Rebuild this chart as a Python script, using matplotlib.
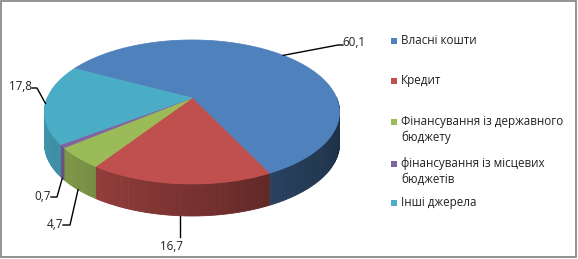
import numpy as np
import matplotlib
matplotlib.use("Agg")
import matplotlib.pyplot as plt
from matplotlib.patches import Polygon, Rectangle
from matplotlib.colors import to_rgb

categories = ["Власні кошти", "Кредит", "Фінансування із державного\nбюджету",
              "фінансування із місцевих\nбюджетів", "Інші джерела"]
values = [60.1, 16.7, 4.7, 0.7, 17.8]
value_labels = ["60,1", "16,7", "4,7", "0,7", "17,8"]
colors = ["#4F81BD", "#C0504D", "#9BBB59", "#8064A2", "#4BACC6"]

plt.rcParams['font.family'] = ['Open Sans', 'DejaVu Sans']

W, H = 578, 259
fig = plt.figure(figsize=(W / 100, H / 100), dpi=100)
ax = fig.add_axes([0, 0, 1, 1])
ax.set_xlim(0, W)
ax.set_ylim(H, 0)
ax.axis('off')

# 3D pie geometry (perspective projection of a disc)
cx, cy = 192, 98
R, HH, k = 144.7, 69.3, 0.194
depth = 32
start = 152.5


def proj(theta_deg, r=1.0):
    t = np.radians(theta_deg)
    u = r * np.cos(t)
    v = r * np.sin(t)
    s = 1 + k * v
    return cx + R * u / s, cy - HH * v / s


vals = np.array(values, dtype=float)
frac = vals / vals.sum()
cum = np.concatenate([[0], np.cumsum(frac)])
a0s = start - 360 * cum[:-1]
a1s = start - 360 * cum[1:]

# side walls
for a0, a1, col in zip(a0s, a1s, colors):
    base = np.array(to_rgb(col))
    n = max(2, int(np.ceil((a0 - a1) / 1.0)))
    edges = np.linspace(a1, a0, n + 1)
    for t0, t1 in zip(edges[:-1], edges[1:]):
        mid = 0.5 * (t0 + t1)
        if np.sin(np.radians(mid)) >= 0.02:
            continue
        f = 0.62 - 0.25 * np.cos(np.radians(mid))
        c = np.clip(base * f, 0, 1)
        x0, y0 = proj(t0)
        x1, y1 = proj(t1)
        poly = [(x0, y0), (x1, y1), (x1, y1 + depth), (x0, y0 + depth)]
        ax.add_patch(Polygon(poly, closed=True, facecolor=c, edgecolor=c, lw=0.6))

# top faces
for a0, a1, col in zip(a0s, a1s, colors):
    ts = np.linspace(a0, a1, max(3, int(abs(a0 - a1)) + 2))
    pts = [proj(0, 0)] + [proj(t) for t in ts]
    ax.add_patch(Polygon(pts, closed=True, facecolor=col, edgecolor=col, lw=0.5))

# data labels with leader lines
mids = 0.5 * (a0s + a1s)
FS = 8.4
# (anchor depth fraction, elbow point, text point, ha)
layout = [
    (0.0, (338, 45), (342, 43), 'left'),
    (1.0, None, (171, 247), 'center'),
    (1.0, (70, 225), (63, 224), 'right'),
    (1.0, (57, 197), (51, 196), 'right'),
    (0.0, (37, 88), (32, 87), 'right'),
]
for m, lab, (df, elbow, tpos, ha) in zip(mids, value_labels, layout):
    x, y = proj(m)
    y = y + df * depth
    if elbow is None:
        ax.plot([x, x], [y, tpos[1] - 10], color='black', lw=1)
    else:
        ax.plot([x, elbow[0], tpos[0] + (1 if ha == 'left' else 0)],
                [y, elbow[1], elbow[1]], color='black', lw=1)
    ax.text(tpos[0], tpos[1], lab, ha=ha, va='center', fontsize=FS, color='#222222')

# legend
leg_y = [41, 81, 122, 164, 203]
line_gap = 16
for yy, lab, col in zip(leg_y, categories, colors):
    ax.add_patch(Rectangle((391, yy - 3), 6, 6, facecolor=col, edgecolor='none'))
    for i, line in enumerate(lab.split('\n')):
        ax.text(401, yy - 0.5 + i * line_gap, line, ha='left', va='center',
                fontsize=FS, color='#222222')

# frame
ax.add_patch(Rectangle((0.5, 0.5), W - 2.5, H - 2.5, fill=False, edgecolor='#808080', lw=1.2))

fig.savefig('out.png', dpi=100)
